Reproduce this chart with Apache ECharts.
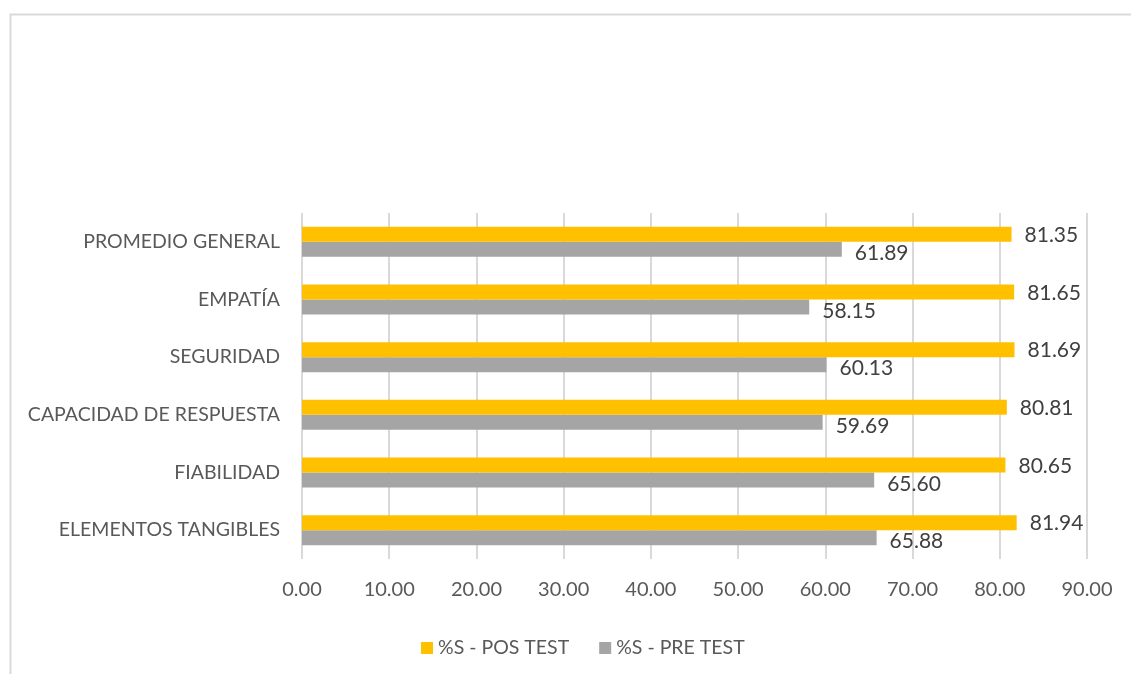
<!DOCTYPE html>
<html>
<head>
<meta charset="utf-8">
<script src="https://cdn.jsdelivr.net/npm/echarts@6/dist/echarts.min.js"></script>
<style>
  html, body { margin: 0; padding: 0; background: #ffffff; }
  #chart { width: 1131px; height: 674px; }
</style>
</head>
<body>
<div id="chart"></div>
<script>
// Dimensions, listed bottom to top as the category axis runs
const categories = [
  'ELEMENTOS TANGIBLES',
  'FIABILIDAD',
  'CAPACIDAD DE RESPUESTA',
  'SEGURIDAD',
  'EMPATÍA',
  'PROMEDIO GENERAL'
];
const posTest = [81.94, 80.65, 80.81, 81.69, 81.65, 81.35];
const preTest = [65.88, 65.60, 59.69, 60.13, 58.15, 61.89];
const seriesNames = ['%S - POS TEST', '%S - PRE TEST'];
const axisMin = 0, axisMax = 90, axisStep = 10;

const FONT = 'Lato, "Open Sans", sans-serif';
const chart = echarts.init(document.getElementById('chart'), null, { renderer: 'canvas' });

const valueLabel = (dy) => ({
  show: true, position: 'right', distance: 13, offset: [0, dy],
  color: '#404040', fontSize: 21, fontFamily: FONT,
  formatter: p => p.value.toFixed(2)
});

chart.setOption({
  backgroundColor: '#ffffff',
  animation: false,
  graphic: [{
    type: 'rect',
    left: 8, top: 12,
    shape: { width: 1300, height: 800 },
    style: { fill: 'none', stroke: '#d9d9d9', lineWidth: 2 },
    silent: true
  }],
  legend: {
    data: seriesNames,
    left: 416,
    top: 633,
    icon: 'rect',
    itemWidth: 12,
    itemHeight: 12,
    itemGap: 30,
    textStyle: { color: '#595959', fontSize: 19.5, fontFamily: FONT }
  },
  grid: { left: 302, right: 44, top: 213, bottom: 115, containLabel: false },
  xAxis: {
    type: 'value',
    min: axisMin, max: axisMax, interval: axisStep,
    axisLine: { show: false },
    axisTick: { show: false },
    splitLine: { show: true, lineStyle: { color: '#d9d9d9', width: 2 } },
    axisLabel: {
      color: '#595959', fontSize: 20, fontFamily: FONT, margin: 21,
      formatter: v => v.toFixed(2)
    }
  },
  yAxis: {
    type: 'category',
    data: categories,
    axisLine: { show: false },
    axisTick: { show: false },
    splitLine: { show: false },
    axisLabel: { color: '#595959', fontSize: 19.5, fontFamily: FONT, margin: 22 }
  },
  series: [
    {
      name: seriesNames[0],
      type: 'bar',
      data: posTest,
      barWidth: 15,
      barGap: '0%',
      itemStyle: { color: '#ffc000' },
      label: valueLabel(1),
      z: 3
    },
    {
      name: seriesNames[1],
      type: 'bar',
      data: preTest,
      barWidth: 15,
      barGap: '0%',
      itemStyle: { color: '#a5a5a5' },
      label: valueLabel(4),
      z: 2
    }
  ]
});
</script>
</body>
</html>
